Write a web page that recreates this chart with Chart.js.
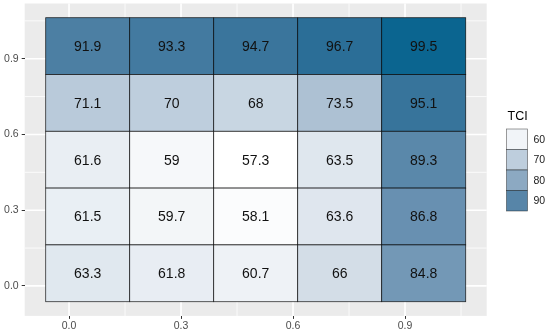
<!DOCTYPE html>
<html lang="en">
<head>
    <meta charset="UTF-8">
    <title>TCI heatmap</title>
    <script src="https://cdn.jsdelivr.net/npm/chart.js"></script>
    <style>
        body { margin: 0; padding: 0; background: #ffffff; }
        canvas { display: block; }
    </style>
</head>
<body>
    <canvas id="tciChart" width="550" height="334"></canvas>
    <script>
        // tile centres (same on both axes), tile size and the values, top row first
        var xCenters = [0.05, 0.275, 0.5, 0.725, 0.95];
        var yCenters = [0.95, 0.725, 0.5, 0.275, 0.05];
        var tileSize = 0.225;
        var tciRows = [
            [91.9, 93.3, 94.7, 96.7, 99.5],
            [71.1, 70, 68, 73.5, 95.1],
            [61.6, 59, 57.3, 63.5, 89.3],
            [61.5, 59.7, 58.1, 63.6, 86.8],
            [63.3, 61.8, 60.7, 66, 84.8]
        ];
        var tickValues = [0.0, 0.3, 0.6, 0.9];
        var minorValues = [0.15, 0.45, 0.75, 1.05];
        var legendBreaks = [60, 70, 80, 90];
        var legendTitle = 'TCI';

        var FONT = "'Liberation Sans', Arial, sans-serif";
        var lowColor = '#ffffff', highColor = '#0b6590';

        // colour scale interpolated in Lab space, like scale_fill_gradient
        function hexToRgb(h) {
            return [parseInt(h.substr(1, 2), 16), parseInt(h.substr(3, 2), 16), parseInt(h.substr(5, 2), 16)];
        }
        function toLin(c) { c /= 255; return c <= 0.04045 ? c / 12.92 : Math.pow((c + 0.055) / 1.055, 2.4); }
        function fromLin(c) { c = c <= 0.0031308 ? 12.92 * c : 1.055 * Math.pow(c, 1 / 2.4) - 0.055; return Math.max(0, Math.min(255, Math.round(c * 255))); }
        function rgbToLab(rgb) {
            var r = toLin(rgb[0]), g = toLin(rgb[1]), b = toLin(rgb[2]);
            var x = (r * 0.4124 + g * 0.3576 + b * 0.1805) / 0.95047;
            var y = (r * 0.2126 + g * 0.7152 + b * 0.0722);
            var z = (r * 0.0193 + g * 0.1192 + b * 0.9505) / 1.08883;
            var f = function (t) { return t > 0.008856 ? Math.cbrt(t) : 7.787 * t + 16 / 116; };
            var fx = f(x), fy = f(y), fz = f(z);
            return [116 * fy - 16, 500 * (fx - fy), 200 * (fy - fz)];
        }
        function labToRgb(lab) {
            var fy = (lab[0] + 16) / 116, fx = fy + lab[1] / 500, fz = fy - lab[2] / 200;
            var inv = function (t) { return t * t * t > 0.008856 ? t * t * t : (t - 16 / 116) / 7.787; };
            var x = inv(fx) * 0.95047, y = inv(fy), z = inv(fz) * 1.08883;
            var r = x * 3.2406 + y * -1.5372 + z * -0.4986;
            var g = x * -0.9689 + y * 1.8758 + z * 0.0415;
            var b = x * 0.0557 + y * -0.2040 + z * 1.0570;
            return 'rgb(' + fromLin(r) + ',' + fromLin(g) + ',' + fromLin(b) + ')';
        }
        var allValues = [].concat.apply([], tciRows);
        var vMin = Math.min.apply(null, allValues), vMax = Math.max.apply(null, allValues);
        var labLow = rgbToLab(hexToRgb(lowColor)), labHigh = rgbToLab(hexToRgb(highColor));
        function fillFor(v) {
            var t = (v - vMin) / (vMax - vMin);
            return labToRgb([0, 1, 2].map(function (i) { return labLow[i] + (labHigh[i] - labLow[i]) * t; }));
        }

        var points = [];
        tciRows.forEach(function (row, r) {
            row.forEach(function (v, c) {
                points.push({ x: xCenters[c], y: yCenters[r], v: v });
            });
        });

        var half = tileSize / 2;
        var lo = xCenters[0] - half, hi = xCenters[xCenters.length - 1] + half;
        var pad = (hi - lo) * 0.05;

        var heatPlugin = {
            id: 'heat',
            beforeDraw: function (chart) {
                var ctx = chart.ctx, a = chart.chartArea;
                var xs = chart.scales.x, ys = chart.scales.y;
                ctx.save();
                ctx.fillStyle = '#ffffff';
                ctx.fillRect(0, 0, chart.width, chart.height);
                ctx.fillStyle = '#ebebeb';
                ctx.fillRect(a.left, a.top, a.right - a.left, a.bottom - a.top);
                ctx.strokeStyle = '#ffffff';
                [[minorValues, 0.8], [tickValues, 1.6]].forEach(function (set) {
                    ctx.lineWidth = set[1];
                    set[0].forEach(function (v) {
                        var px = xs.getPixelForValue(v), py = ys.getPixelForValue(v);
                        ctx.beginPath();
                        ctx.moveTo(px, a.top); ctx.lineTo(px, a.bottom);
                        ctx.moveTo(a.left, py); ctx.lineTo(a.right, py);
                        ctx.stroke();
                    });
                });
                ctx.restore();
            },
            afterDatasetsDraw: function (chart) {
                var ctx = chart.ctx;
                var xs = chart.scales.x, ys = chart.scales.y;
                ctx.save();
                chart.data.datasets[0].data.forEach(function (p) {
                    var x0 = xs.getPixelForValue(p.x - half), x1 = xs.getPixelForValue(p.x + half);
                    var y0 = ys.getPixelForValue(p.y + half), y1 = ys.getPixelForValue(p.y - half);
                    ctx.fillStyle = fillFor(p.v);
                    ctx.fillRect(x0, y0, x1 - x0, y1 - y0);
                    ctx.strokeStyle = 'rgba(0,0,0,0.8)';
                    ctx.lineWidth = 0.8;
                    ctx.strokeRect(x0, y0, x1 - x0, y1 - y0);
                });
                ctx.fillStyle = '#111111';
                ctx.font = '14px ' + FONT;
                ctx.textAlign = 'center';
                ctx.textBaseline = 'middle';
                chart.data.datasets[0].data.forEach(function (p) {
                    ctx.fillText(String(p.v), xs.getPixelForValue(p.x), ys.getPixelForValue(p.y) + 1);
                });
                ctx.restore();
            },
            afterDraw: function (chart) {
                var ctx = chart.ctx;
                var kx = 506.5, ky = 129, kw = 21, kh = 20.5;
                ctx.save();
                ctx.fillStyle = '#000000';
                ctx.font = '12.5px ' + FONT;
                ctx.textAlign = 'left';
                ctx.textBaseline = 'alphabetic';
                ctx.fillText(legendTitle, 507.5, 120);
                legendBreaks.forEach(function (b, i) {
                    var y = ky + i * kh;
                    ctx.fillStyle = fillFor(b);
                    ctx.fillRect(kx, y, kw, kh);
                    ctx.strokeStyle = 'rgba(0,0,0,0.55)';
                    ctx.lineWidth = 0.7;
                    ctx.strokeRect(kx, y, kw, kh);
                    ctx.fillStyle = '#1a1a1a';
                    ctx.font = '10.5px ' + FONT;
                    ctx.textBaseline = 'middle';
                    ctx.fillText(String(b), kx + kw + 6, y + kh / 2 + 0.5);
                });
                ctx.restore();
            }
        };

        function fixTicks(scale) {
            scale.ticks = tickValues.map(function (v) { return { value: v }; });
        }

        var ctx = document.getElementById('tciChart').getContext('2d');
        var chart = new Chart(ctx, {
            type: 'scatter',
            data: {
                datasets: [{ data: points, pointRadius: 0, pointHoverRadius: 0 }]
            },
            options: {
                responsive: false,
                animation: false,
                devicePixelRatio: 1,
                layout: { padding: { left: 0, top: 3.5, right: 63.3, bottom: 0 } },
                plugins: { legend: { display: false }, tooltip: { enabled: false } },
                scales: {
                    x: {
                        type: 'linear',
                        min: lo - pad,
                        max: hi + pad,
                        afterBuildTicks: fixTicks,
                        afterFit: function (s) { s.height = 18.1; s.paddingLeft = 0; s.paddingRight = 0; },
                        border: { display: false },
                        grid: { drawOnChartArea: false, drawTicks: true, tickLength: 3, color: '#333333', lineWidth: 1 },
                        ticks: {
                            color: '#4d4d4d', padding: 1, maxRotation: 0,
                            font: { family: FONT, size: 10.5 },
                            callback: function (v) { return Number(v).toFixed(1); }
                        }
                    },
                    y: {
                        type: 'linear',
                        min: lo - pad,
                        max: hi + pad,
                        afterBuildTicks: fixTicks,
                        afterFit: function (s) { s.width = 24.7; s.paddingTop = 0; s.paddingBottom = 0; },
                        border: { display: false },
                        grid: { drawOnChartArea: false, drawTicks: true, tickLength: 3, color: '#333333', lineWidth: 1 },
                        ticks: {
                            color: '#4d4d4d', padding: 3,
                            font: { family: FONT, size: 10.5 },
                            callback: function (v) { return Number(v).toFixed(1); }
                        }
                    }
                }
            },
            plugins: [heatPlugin]
        });
    </script>
</body>
</html>
